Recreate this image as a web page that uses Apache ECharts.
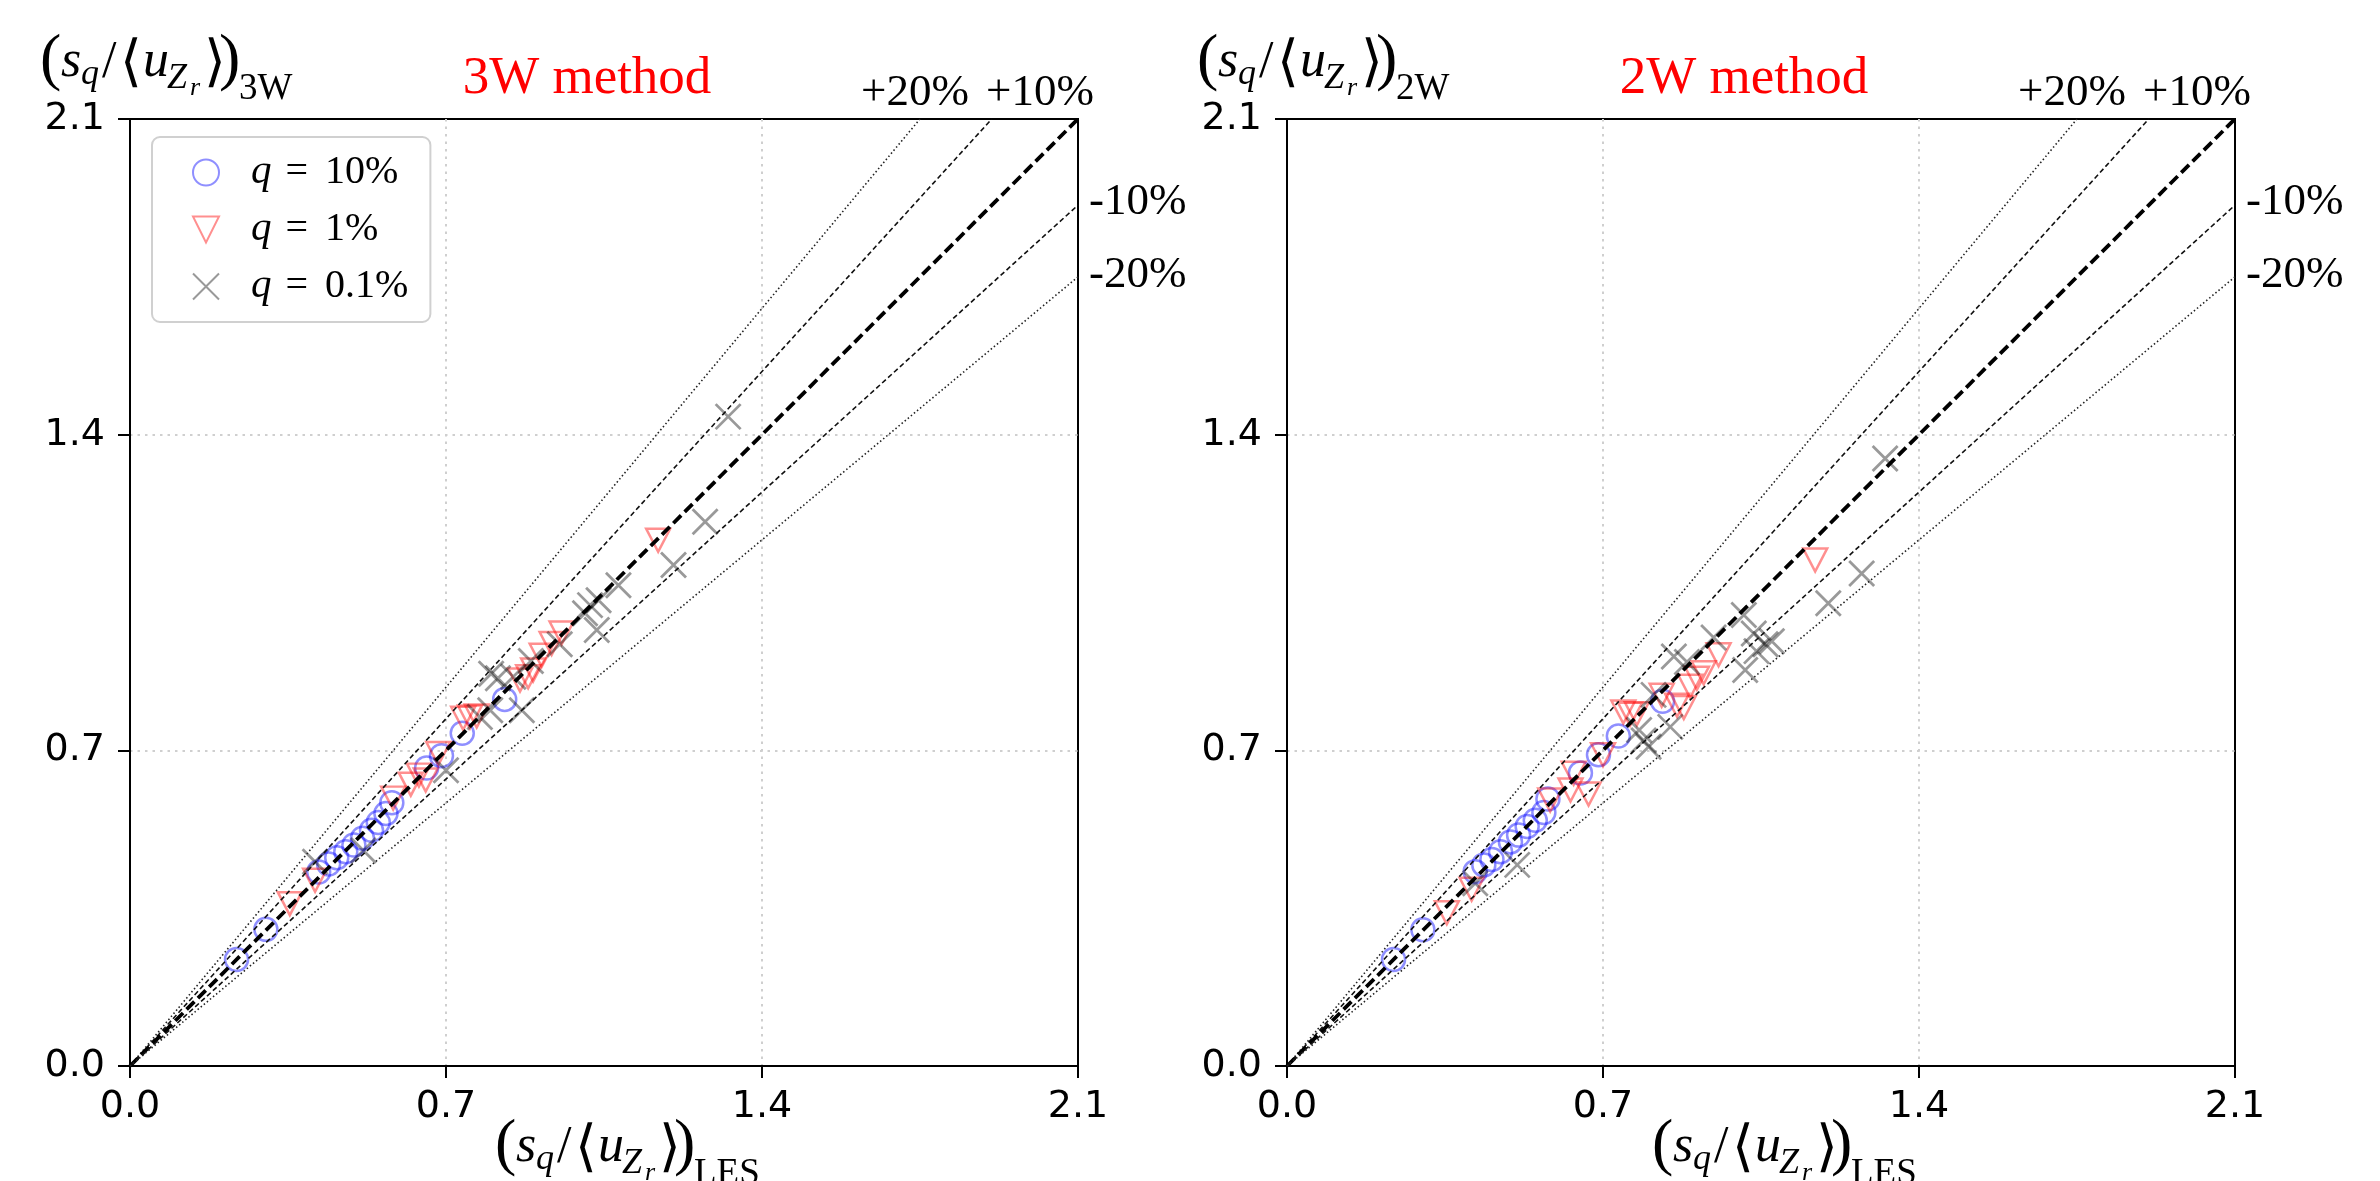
<!DOCTYPE html>
<html><head><meta charset="utf-8">
<script src="https://cdn.jsdelivr.net/npm/echarts@6/dist/echarts.min.js"></script>
<style>html,body{margin:0;padding:0;background:#fff}#c{width:2380px;height:1181px}</style>
</head><body><div id="c"></div>
<script>
// ---------- data ----------
const tickValues = [0, 0.7, 1.4, 2.1];
const seriesNames = ['q = 10%', 'q = 1%', 'q = 0.1%'];
const panelTitles = ['3W method', '2W method'];
const yNameSubs = ['3W', '2W'];
const xNameSub = 'LES';
const pctLabels = ['+20%', '+10%', '-10%', '-20%'];

// 3W method (left panel)
const w3_q10 = [[0.236,0.236],[0.301,0.303],[0.418,0.430],[0.440,0.448],[0.458,0.462],[0.478,0.475],[0.496,0.490],[0.515,0.505],[0.535,0.523],[0.550,0.540],[0.567,0.560],[0.580,0.584],[0.657,0.661],[0.690,0.688],[0.736,0.738],[0.830,0.813]];
const w3_q1 = [[0.354,0.360],[0.410,0.412],[0.583,0.594],[0.622,0.625],[0.640,0.645],[0.655,0.634],[0.683,0.693],[0.738,0.771],[0.753,0.774],[0.768,0.776],[0.864,0.856],[0.882,0.863],[0.893,0.878],[0.912,0.911],[0.934,0.937],[0.956,0.960],[1.170,1.166]];
const w3_q01 = [[0.410,0.453],[0.517,0.478],[0.700,0.656],[0.775,0.774],[0.798,0.789],[0.800,0.870],[0.815,0.860],[0.849,0.863],[0.868,0.789],[0.888,0.898],[0.952,0.935],[1.008,1.004],[1.019,1.022],[1.038,1.033],[1.034,0.967],[1.082,1.066],[1.204,1.111],[1.274,1.207],[1.325,1.440]];

// 2W method (right panel)
const w2_q10 = [[0.236,0.236],[0.301,0.302],[0.417,0.431],[0.436,0.446],[0.454,0.458],[0.473,0.475],[0.495,0.497],[0.513,0.512],[0.532,0.531],[0.550,0.545],[0.569,0.562],[0.578,0.592],[0.650,0.650],[0.690,0.690],[0.734,0.732],[0.832,0.809]];
const w2_q1 = [[0.354,0.340],[0.409,0.392],[0.583,0.590],[0.628,0.612],[0.635,0.649],[0.668,0.603],[0.700,0.690],[0.745,0.785],[0.760,0.780],[0.775,0.781],[0.830,0.822],[0.864,0.800],[0.879,0.795],[0.893,0.842],[0.908,0.860],[0.923,0.872],[0.956,0.912],[1.170,1.122]];
const w2_q01 = [[0.417,0.405],[0.510,0.446],[0.780,0.745],[0.790,0.722],[0.801,0.708],[0.812,0.823],[0.849,0.752],[0.857,0.908],[0.886,0.896],[0.945,0.950],[1.012,1.000],[1.015,0.878],[1.034,0.959],[1.040,0.920],[1.060,0.935],[1.074,0.942],[1.199,1.026],[1.273,1.092],[1.325,1.347]];

// reference lines (end points)
const refPlus20 = [[0,0],[1.75,2.1]];
const refPlus10 = [[0,0],[1.909,2.1]];
const refOne = [[0,0],[2.1,2.1]];
const refMinus10 = [[0,0],[2.1,1.909]];
const refMinus20 = [[0,0],[2.1,1.75]];

// ---------- layout / style ----------
const GL = [130, 1287];   // grid left
const GT = 119, GW = 948, GH = 947;
const DX = 1157;
const SERIF = '"Liberation Serif","Times New Roman",serif';

const markerStyles = [
  {symbol:'circle', symbolSize:23, itemStyle:{color:'rgba(0,0,0,0)', borderColor:'rgba(0,0,255,0.55)', borderWidth:2.5}},
  {symbol:'path://M0,0L2,0L1,2Z', symbolSize:[24,23], itemStyle:{color:'rgba(0,0,0,0)', borderColor:'rgba(255,0,0,0.55)', borderWidth:2.5}},
  {symbol:'path://M0,0L1,1M1,0L0,1', symbolSize:25, itemStyle:{color:'rgba(0,0,0,0)', borderColor:'rgba(0,0,0,0.5)', borderWidth:2.8}}
];
const refStyles = [
  {data: refPlus20, lineStyle:{color:'#222', width:1.6, type:[1.5,2.5]}},
  {data: refPlus10, lineStyle:{color:'#111', width:1.6, type:[5,3]}},
  {data: refOne, lineStyle:{color:'#000', width:3.8, type:[11,5]}},
  {data: refMinus10, lineStyle:{color:'#111', width:1.6, type:[5,3]}},
  {data: refMinus20, lineStyle:{color:'#222', width:1.6, type:[1.5,2.5]}}
];

const panels = [[w3_q10, w3_q1, w3_q01], [w2_q10, w2_q1, w2_q01]];

function axisCommon(gi, isX) {
  return {
    type:'value', gridIndex:gi, min:0, max:2.1, interval:0.7,
    axisLine:{show:true, onZero:false, lineStyle:{color:'#000', width:2}},
    axisTick:{show:true, length:12, lineStyle:{color:'#000', width:2}},
    axisLabel:{color:'#000', fontFamily:'"DejaVu Sans"', fontSize:38, margin: isX ? 22 : 25,
      formatter: v => v.toFixed(1)},
    splitLine:{show:true, showMinLine:false, showMaxLine:false, lineStyle:{color:'#cfcfcf', width:2, type:[2.5,5]}}
  };
}

const series = [];
panels.forEach((sets, gi) => {
  sets.forEach((d, k) => {
    series.push(Object.assign({type:'scatter', name:seriesNames[k], xAxisIndex:gi, yAxisIndex:gi, data:d, z:2, silent:true}, markerStyles[k]));
  });
  refStyles.forEach(r => {
    series.push({type:'line', xAxisIndex:gi, yAxisIndex:gi, data:r.data, symbol:'none', lineStyle:r.lineStyle, z:3, silent:true});
  });
});

// math label pieces: [text, x, baseline, size, italic, family]
function mathPieces(sub) {
  return [
    ['(', 40, 83, 64, false, SERIF],
    ['s', 61, 80, 52, true, SERIF],
    ['q', 81, 87, 36, true, SERIF],
    ['/', 102, 81, 52, false, SERIF],
    ['\u27E8', 120, 84, 56, false, '"DejaVu Serif","DejaVu Sans"'],
    ['u', 143, 80, 52, true, SERIF],
    ['Z', 167, 91, 36, true, SERIF],
    ['r', 190, 97, 26, true, SERIF],
    ['\u27E9', 204, 84, 56, false, '"DejaVu Serif","DejaVu Sans"'],
    [')', 219, 83, 64, false, SERIF],
    [sub, 239, 102, 37, false, SERIF]
  ];
}
function mathGraphic(sub, ox, oy) {
  return mathPieces(sub).map(p => ({
    type:'text', x: p[1] + ox, y: p[2] + oy - 0.34 * p[3], silent:true,
    style:{text:p[0], fill:'#000', align:'left', verticalAlign:'middle',
      font: (p[4] ? 'italic ' : '') + p[3] + 'px ' + p[5]}
  }));
}
function txt(t, x, y, size, color, align) {
  return {type:'text', x:x, y:y, silent:true,
    style:{text:t, fill:color, align:align, verticalAlign:'middle', font: size + 'px ' + SERIF}};
}

const graphics = [];
[0, 1].forEach(gi => {
  const ox = gi * DX;
  graphics.push(txt(panelTitles[gi], 587 + ox, 79.5, 53, '#ff0000', 'center'));
  graphics.push(txt(pctLabels[0], 915 + ox, 93, 45, '#000', 'center'));
  graphics.push(txt(pctLabels[1], 1040 + ox, 93, 45, '#000', 'center'));
  graphics.push(txt(pctLabels[2], 1089 + ox, 202, 45, '#000', 'left'));
  graphics.push(txt(pctLabels[3], 1089 + ox, 275, 45, '#000', 'left'));
  mathGraphic(yNameSubs[gi], ox, 0).forEach(g => graphics.push(g));
  mathGraphic(xNameSub, 455 + ox, 1085).forEach(g => graphics.push(g));
});

const chart = echarts.init(document.getElementById('c'), null, {renderer:'canvas'});
chart.setOption({
  animation:false,
  backgroundColor:'#fff',
  grid:[0,1].map(gi => ({left:GL[gi], top:GT, width:GW, height:GH, show:true, borderColor:'#000', borderWidth:2, backgroundColor:'rgba(0,0,0,0)'})),
  xAxis:[axisCommon(0,true), axisCommon(1,true)],
  yAxis:[axisCommon(0,false), axisCommon(1,false)],
  legend:{
    data: seriesNames, orient:'vertical', left:152, top:137,
    padding:[15,22,15,40], itemGap:16, itemWidth:26, itemHeight:26,
    backgroundColor:'rgba(255,255,255,0.8)', borderColor:'#d0d0d0', borderWidth:2, borderRadius:8,
    selectedMode:false,
    formatter: name => '{q|q}{e|=}{v|' + name.split('= ')[1] + '}',
    textStyle:{color:'#000', rich:{
      q:{fontFamily:SERIF, fontStyle:'italic', fontSize:41, lineHeight:40, padding:[0,0,0,27]},
      e:{fontFamily:SERIF, fontSize:40, lineHeight:40, padding:[0,17,0,14]},
      v:{fontFamily:SERIF, fontSize:40, lineHeight:40}
    }}
  },
  graphic: graphics,
  series: series
});
</script></body></html>
